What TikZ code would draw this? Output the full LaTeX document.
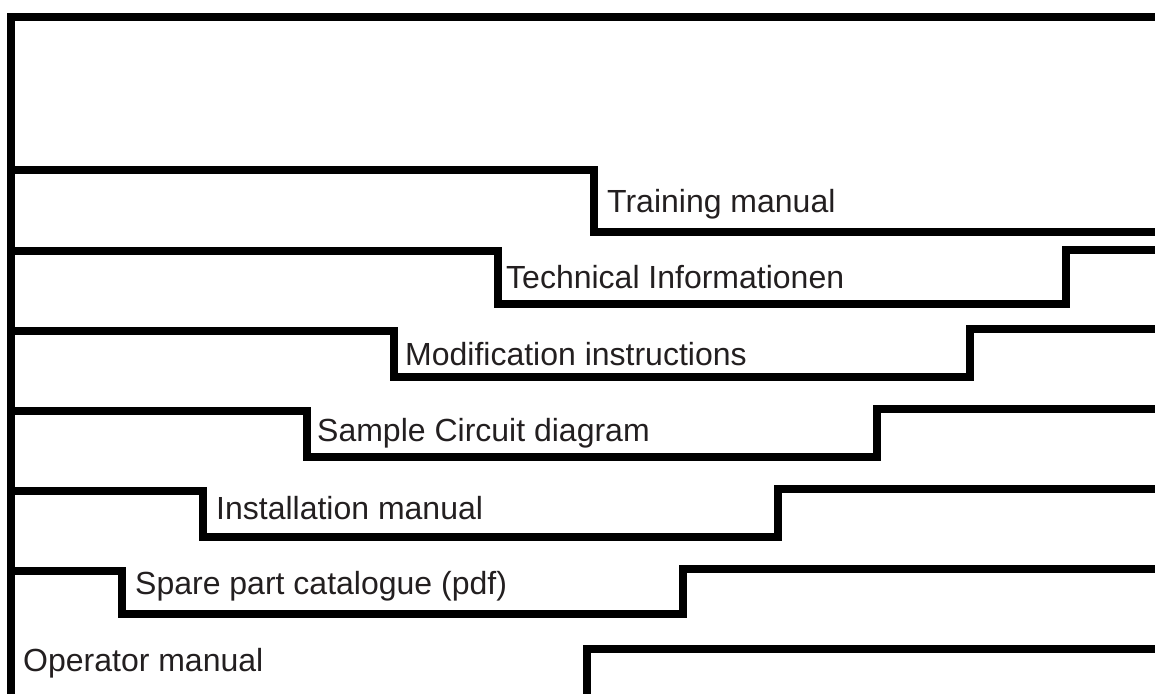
\documentclass[tikz,border=0pt]{standalone}
\usepackage{fontspec}
\setmainfont{Liberation Sans}
\definecolor{ink}{HTML}{231F20}
\begin{document}
\begin{tikzpicture}[x=1pt,y=-1pt,
  stair/.style={line width=8pt, line join=miter, draw=black},
  lbl/.style={anchor=base west, inner sep=0pt, font=\fontsize{32}{36}\selectfont, text=ink}]
\useasboundingbox (0,0) rectangle (1155,693);
% frame
\draw[stair] (10.5,700) -- (10.5,17) -- (1165,17);
% Training manual
\draw[stair] (10.5,170) -- (594,170) -- (594,232) -- (1165,232);
% Technical Informationen
\draw[stair] (10.5,251) -- (498,251) -- (498,304) -- (1066,304) -- (1066,250) -- (1165,250);
% Modification instructions
\draw[stair] (10.5,331) -- (394,331) -- (394,377) -- (970,377) -- (970,329) -- (1165,329);
% Sample Circuit diagram
\draw[stair] (10.5,411) -- (307,411) -- (307,457) -- (877,457) -- (877,409) -- (1165,409);
% Installation manual
\draw[stair] (10.5,491) -- (203,491) -- (203,537) -- (778,537) -- (778,489) -- (1165,489);
% Spare part catalogue
\draw[stair] (10.5,571) -- (122,571) -- (122,614) -- (683,614) -- (683,569) -- (1165,569);
% Operator manual
\draw[stair] (587,700) -- (587,649) -- (1165,649);
\node[lbl] (t1) at (607,212) {Training manual};
\node[lbl] (t2) at (506,288) {Technical Informationen};
\node[lbl] (t3) at (405,365) {Modification instructions};
\node[lbl] (t4) at (317,441) {Sample Circuit diagram};
\node[lbl] (t5) at (216,519) {Installation manual};
\node[lbl] (t6) at (135,594) {Spare part catalogue (pdf)};
\node[lbl] (t7) at (23,671) {Operator manual};
\end{tikzpicture}
\end{document}
